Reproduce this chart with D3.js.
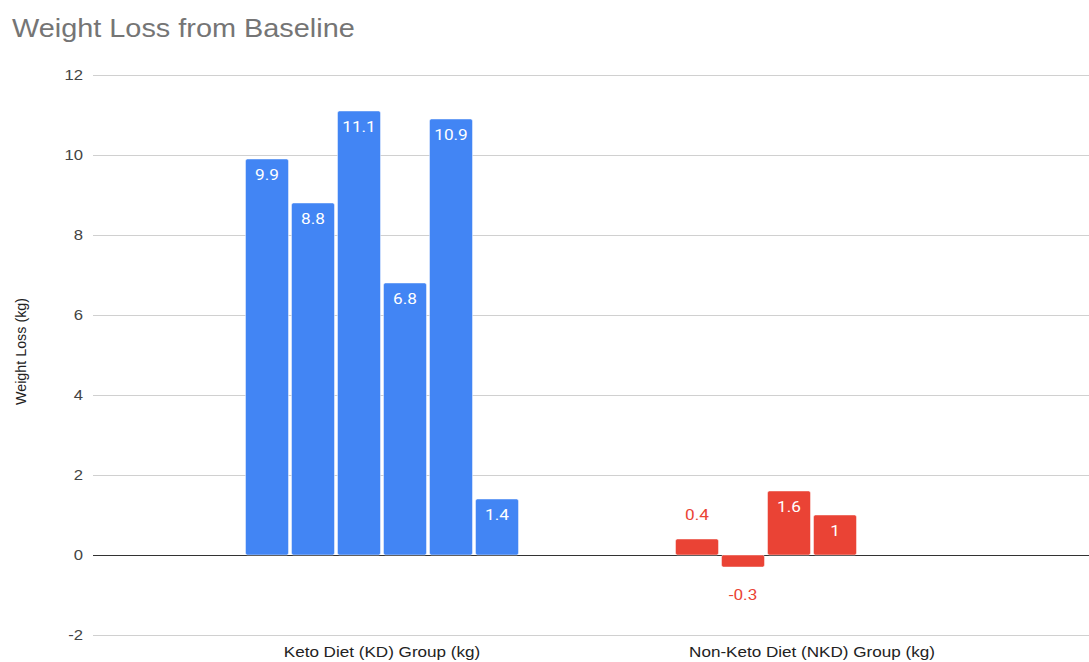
<!DOCTYPE html>
<html>
<head>
<meta charset="utf-8">
<script src="https://cdn.jsdelivr.net/npm/d3@7"></script>
<style>
  html, body { margin: 0; padding: 0; background: #fff; }
  svg { display: block; }
</style>
</head>
<body>
<svg id="chart" width="1089" height="662"></svg>
<script>
// ---- data ----
const title = "Weight Loss from Baseline";
const yAxisTitle = "Weight Loss (kg)";
const categories = ["Keto Diet (KD) Group (kg)", "Non-Keto Diet (NKD) Group (kg)"];
const ketoValues = [9.9, 8.8, 11.1, 6.8, 10.9, 1.4];
const nonKetoValues = [0.4, -0.3, 1.6, 1, null, null];
const categoryColors = ["#4285F4", "#EA4335"];
const yTicks = [-2, 0, 2, 4, 6, 8, 10, 12];

const seriesCount = 6;
const groups = [ketoValues, nonKetoValues];

// ---- layout ----
const W = 1089, H = 662;
const plotLeft = 93, plotRight = 1089;
const STRETCH = 1.11; // reference text is horizontally widened

const svg = d3.select("#chart");

const y = d3.scaleLinear().domain([-2, 12]).range([635, 75]);
const x0 = d3.scaleBand().domain(categories).range([167, 1027]).padding(0);
const x1 = d3.scaleBand().domain(d3.range(seriesCount)).range([-136.5, 136.5]).paddingInner(3 / 46).paddingOuter(0);

function stretch(sel) {
  sel.each(function () {
    const len = this.getComputedTextLength();
    d3.select(this).attr("textLength", len * STRETCH).attr("lengthAdjust", "spacingAndGlyphs");
  });
}

// title
svg.append("text")
  .attr("x", 12).attr("y", 37)
  .attr("font-family", "Liberation Sans, Arial, sans-serif")
  .attr("font-size", 26)
  .attr("fill", "#757575")
  .text(title)
  .call(stretch);

// gridlines
svg.append("g").selectAll("line").data(yTicks.filter(d => d !== 0)).join("line")
  .attr("x1", plotLeft).attr("x2", plotRight)
  .attr("y1", d => Math.round(y(d)) + 0.5).attr("y2", d => Math.round(y(d)) + 0.5)
  .attr("stroke", "#d0d0d0").attr("stroke-width", 1);

// y tick labels
svg.append("g").selectAll("text").data(yTicks).join("text")
  .attr("x", 83).attr("y", d => y(d)).attr("dy", "0.36em")
  .attr("text-anchor", "end")
  .attr("font-family", "Liberation Sans, Arial, sans-serif")
  .attr("font-size", 15)
  .attr("fill", "#444")
  .text(d => d)
  .call(stretch);

// y axis title
svg.append("text")
  .attr("transform", `translate(26, ${ (298 + 405) / 2 }) rotate(-90)`)
  .attr("text-anchor", "middle")
  .attr("font-family", "Liberation Sans, Arial, sans-serif")
  .attr("font-size", 14.3)
  .attr("fill", "#222")
  .text(yAxisTitle);

// zero baseline
svg.append("line")
  .attr("x1", plotLeft).attr("x2", plotRight)
  .attr("y1", Math.round(y(0)) + 0.5).attr("y2", Math.round(y(0)) + 0.5)
  .attr("stroke", "#333").attr("stroke-width", 1);

// bars
const barData = [];
groups.forEach((vals, gi) => {
  vals.forEach((v, si) => {
    if (v === null || v === undefined) return;
    barData.push({ cat: categories[gi], gi, si, v, color: categoryColors[gi] });
  });
});

const bx = d => x0(d.cat) + x0.bandwidth() / 2 + x1(d.si);

svg.append("g").selectAll("rect").data(barData).join("rect")
  .attr("x", bx)
  .attr("width", x1.bandwidth())
  .attr("y", d => y(Math.max(0, d.v)))
  .attr("height", d => Math.abs(y(d.v) - y(0)))
  .attr("rx", 2).attr("ry", 2)
  .attr("fill", d => d.color)
  .attr("stroke", "#fff").attr("stroke-opacity", 0.45).attr("stroke-width", 1);

// data labels
const labelFits = d => Math.abs(y(d.v) - y(0)) > 26;
svg.append("g").selectAll("text").data(barData).join("text")
  .attr("x", d => bx(d) + x1.bandwidth() / 2)
  .attr("y", d => {
    if (labelFits(d)) return d.v >= 0 ? y(d.v) + 21 : y(d.v) - 10;
    return d.v >= 0 ? y(d.v) - 19.5 : y(d.v) + 32.5;
  })
  .attr("text-anchor", "middle")
  .attr("font-family", "Roboto, sans-serif")
  .attr("font-size", 15.5)
  .attr("fill", d => labelFits(d) ? "#fff" : d.color)
  .text(d => d.v)
  .call(stretch);

// category labels
svg.append("g").selectAll("text").data(categories).join("text")
  .attr("x", d => x0(d) + x0.bandwidth() / 2)
  .attr("y", 657)
  .attr("text-anchor", "middle")
  .attr("font-family", "Liberation Sans, Arial, sans-serif")
  .attr("font-size", 15.4)
  .attr("fill", "#222")
  .text(d => d)
  .call(stretch);
</script>
</body>
</html>
